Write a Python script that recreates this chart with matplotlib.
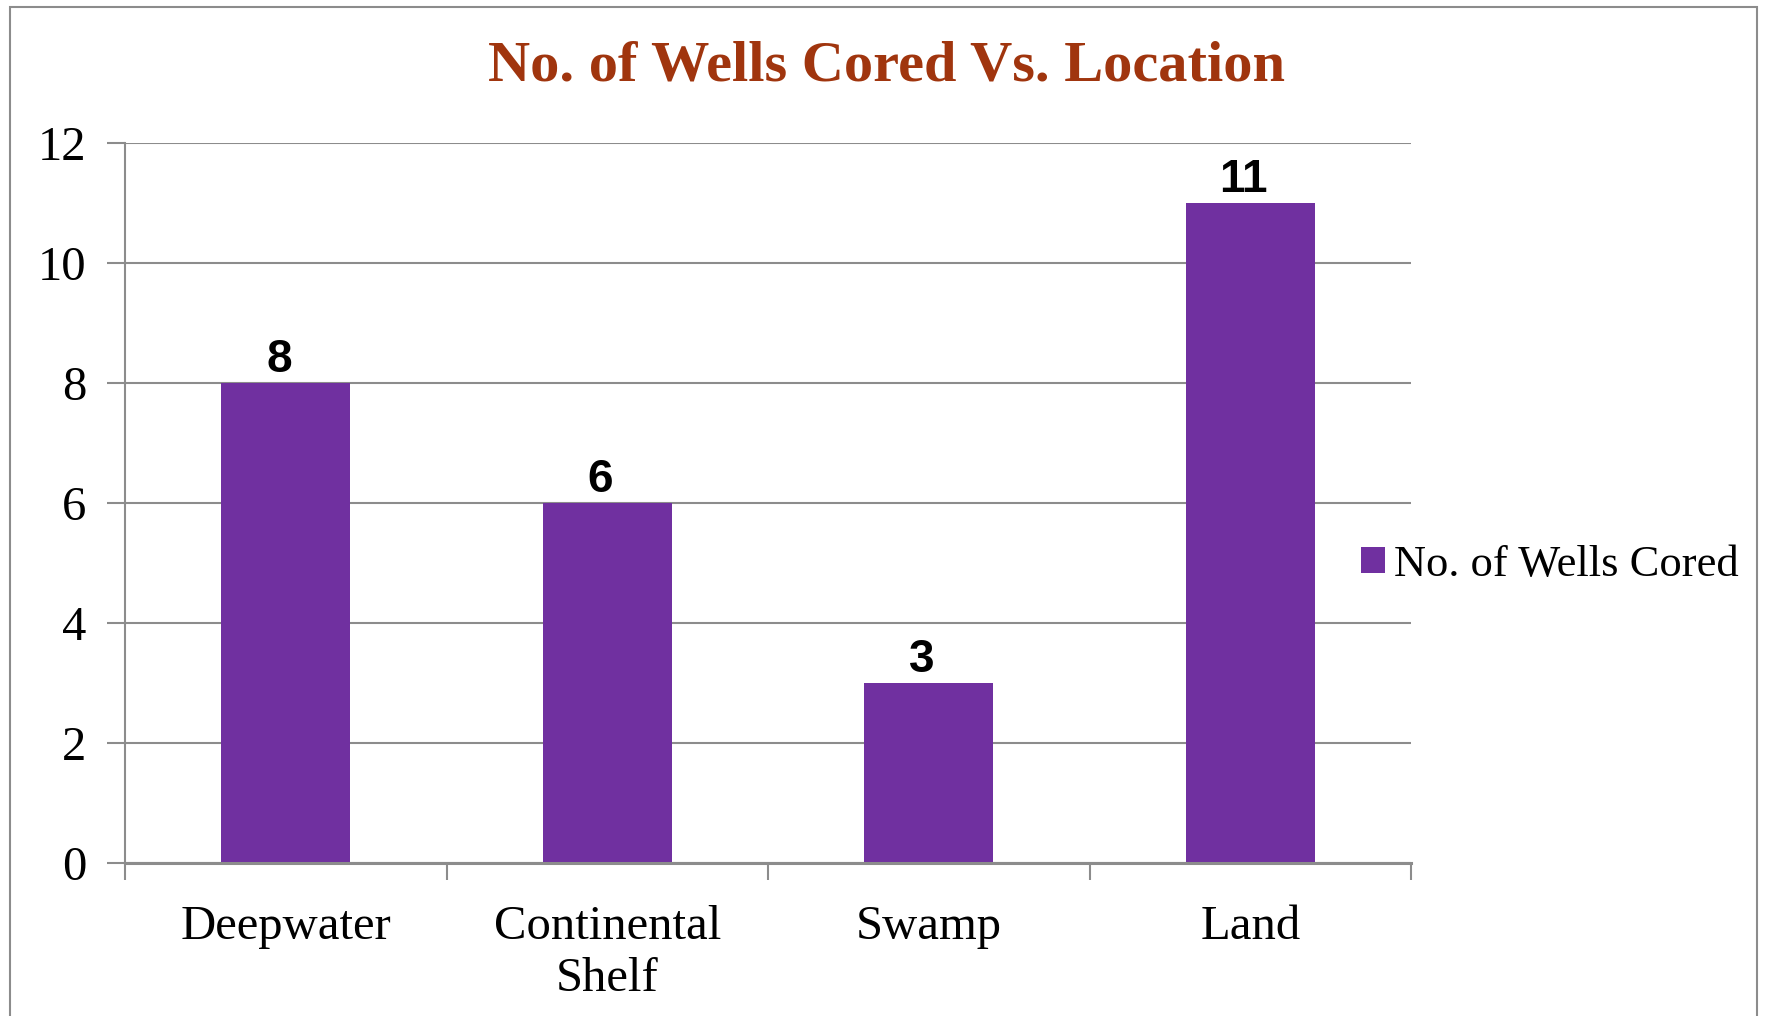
import matplotlib
matplotlib.use("Agg")
import matplotlib.pyplot as plt
from matplotlib.patches import Patch, Rectangle

# data
locations = ["Deepwater", "Continental\nShelf", "Swamp", "Land"]
wells_cored = [8, 6, 3, 11]
series_name = "No. of Wells Cored"
chart_title = "No. of Wells Cored Vs. Location"
y_ticks = [0, 2, 4, 6, 8, 10, 12]

bar_color = "#7030A0"
grid_color = "#8C8C8C"
title_color = "#A0350E"
serif = ["Liberation Serif", "DejaVu Serif"]
sans = ["Liberation Sans", "DejaVu Sans"]

fig = plt.figure(figsize=(17.66, 10.16), dpi=100)
ax = fig.add_axes([0.0708, 0.1506, 0.7282, 0.7087])

x = list(range(len(locations)))
bars = ax.bar(x, wells_cored, width=0.4, color=bar_color, zorder=3)

ax.set_xlim(-0.5, len(locations) - 0.5)
ax.set_ylim(0, 12)
ax.set_yticks(y_ticks)
ax.set_yticklabels([str(t) for t in y_ticks], family=serif, fontsize=35)
ax.yaxis.grid(True, color=grid_color, linewidth=1.5, zorder=0)

# category labels between boundary ticks
ax.set_xticks([i - 0.5 for i in range(len(locations) + 1)])
ax.set_xticklabels([])
ax.set_xticks(x, minor=True)
ax.set_xticklabels(locations, minor=True, family=serif, fontsize=35,
                   linespacing=1.25)
ax.tick_params(axis="x", which="major", direction="out", length=12,
               width=1.5, color=grid_color)
ax.tick_params(axis="x", which="minor", length=0, pad=30)
ax.tick_params(axis="y", direction="out", length=13, width=1.5,
               color=grid_color, pad=15)

for s in ["top", "right"]:
    ax.spines[s].set_visible(False)
ax.spines["left"].set_color(grid_color)
ax.spines["left"].set_linewidth(1.5)
ax.spines["bottom"].set_color(grid_color)
ax.spines["bottom"].set_linewidth(2.2)
ax.spines["bottom"].set_zorder(4)

for b, v in zip(bars, wells_cored):
    ax.annotate(str(v), (b.get_x() + b.get_width() / 2, v),
                xytext=(-5, 1), textcoords="offset points",
                ha="center", va="bottom", fontsize=33,
                fontweight="bold", family=sans)

fig.text(0.502, 0.935, chart_title, ha="center", va="center",
         fontsize=42, fontweight="bold", color=title_color, family=serif)

handle = Patch(facecolor=bar_color, edgecolor="none")
fig.legend([handle], [series_name], loc="center left",
           bbox_to_anchor=(0.748, 0.444), frameon=False,
           prop={"family": serif, "size": 32},
           handlelength=0.53, handleheight=0.53, handletextpad=0.22)

# outer chart border
fig.patches.append(Rectangle((10 / 1766, -0.05), 1747 / 1766, 1.05 - 7 / 1016,
                             transform=fig.transFigure, fill=False,
                             edgecolor=grid_color, linewidth=1.5))

fig.savefig("out.png", dpi=100)
